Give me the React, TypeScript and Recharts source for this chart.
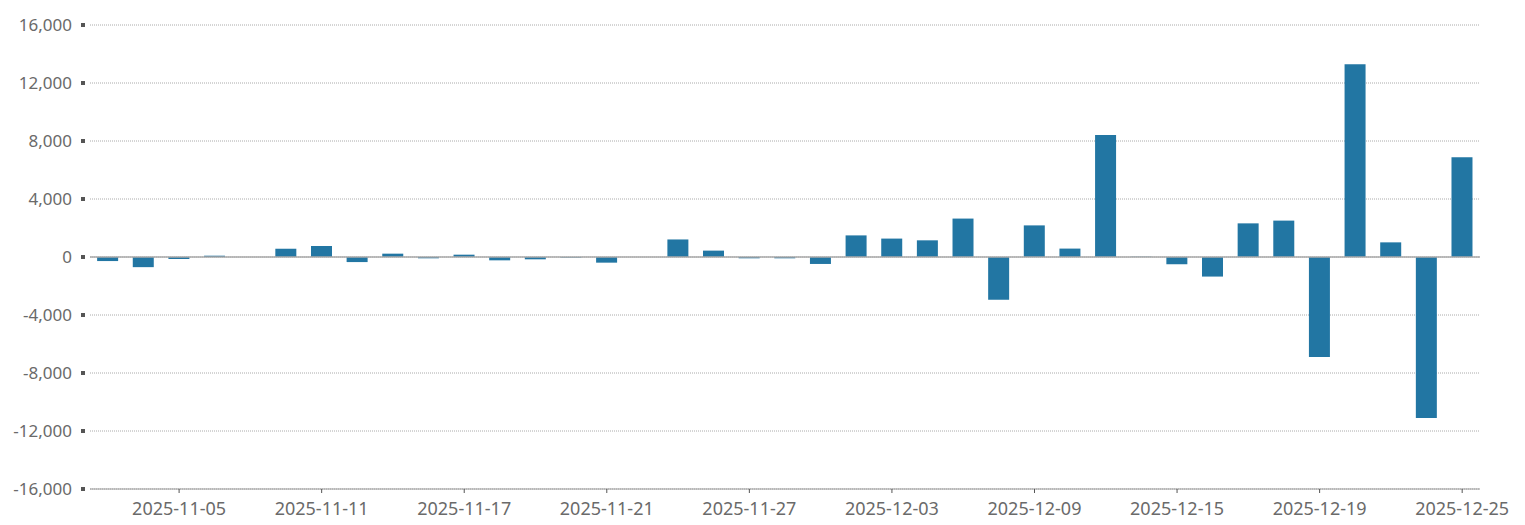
import { BarChart, Bar, XAxis, YAxis, CartesianGrid, ReferenceLine } from "recharts";

const dates = [
  "2025-11-03", "2025-11-04", "2025-11-05", "2025-11-06", "2025-11-07",
  "2025-11-10", "2025-11-11", "2025-11-12", "2025-11-13", "2025-11-14",
  "2025-11-17", "2025-11-18", "2025-11-19", "2025-11-20", "2025-11-21",
  "2025-11-24", "2025-11-25", "2025-11-26", "2025-11-27", "2025-11-28",
  "2025-12-01", "2025-12-02", "2025-12-03", "2025-12-04", "2025-12-05",
  "2025-12-08", "2025-12-09", "2025-12-10", "2025-12-11", "2025-12-12",
  "2025-12-15", "2025-12-16", "2025-12-17", "2025-12-18", "2025-12-19",
  "2025-12-22", "2025-12-23", "2025-12-24", "2025-12-25",
];

const values = [
  -280, -700, -140, 90, 0,
  570, 760, -350, 230, -90,
  160, -230, -160, -40, -390,
  0, 1210, 440, -90, -90,
  -480, 1490, 1270, 1150, 2650,
  -2940, 2180, 580, 8410, 20,
  -500, -1350, 2320, 2510, -6900,
  13290, 1010, -11100, 6880,
];

const xTicks = [
  "2025-11-05", "2025-11-11", "2025-11-17", "2025-11-21", "2025-11-27",
  "2025-12-03", "2025-12-09", "2025-12-15", "2025-12-19", "2025-12-25",
];

const yTicks = [-16000, -12000, -8000, -4000, 0, 4000, 8000, 12000, 16000];

const data = dates.map((d, i) => ({ date: d, value: values[i] }));

const font = "'Noto Sans', sans-serif";

const YTick = (props: any) => {
  const { x, y, payload } = props;
  return (
    <g>
      <rect x={x - 9} y={y - 2} width={4} height={4} fill="#555" />
      <text
        x={x - 18}
        y={y}
        dy="0.355em"
        textAnchor="end"
        fill="#6a6a6a"
        fontSize={17}
        fontFamily={font}
      >
        {Number(payload.value).toLocaleString("en-US")}
      </text>
    </g>
  );
};

export default function App() {
  return (
    <div style={{ position: "absolute", left: 0, top: 0, background: "#fff" }}>
      <BarChart
        width={1525}
        height={525}
        data={data}
        margin={{ top: 25, right: 45, bottom: 0, left: 0 }}
        barCategoryGap="20%"
      >
        <CartesianGrid
          vertical={false}
          stroke="#aaa"
          strokeDasharray="1 1"
        />
        <XAxis
          dataKey="date"
          ticks={xTicks}
          interval={0}
          height={36}
          tickSize={4}
          tickMargin={9}
          stroke="#999"
          tickLine={{ stroke: "#555" }}
          tick={{ fill: "#6a6a6a", fontSize: 18, fontFamily: font }}
        />
        <YAxis
          domain={[-16000, 16000]}
          ticks={yTicks}
          interval={0}
          width={90}
          axisLine={false}
          tickLine={false}
          tickSize={0}
          tickMargin={0}
          tick={<YTick />}
        />
        <ReferenceLine y={0} stroke="#aaa" strokeWidth={1.5} />
        <Bar dataKey="value" fill="#2276a3" isAnimationActive={false} />
      </BarChart>
    </div>
  );
}
